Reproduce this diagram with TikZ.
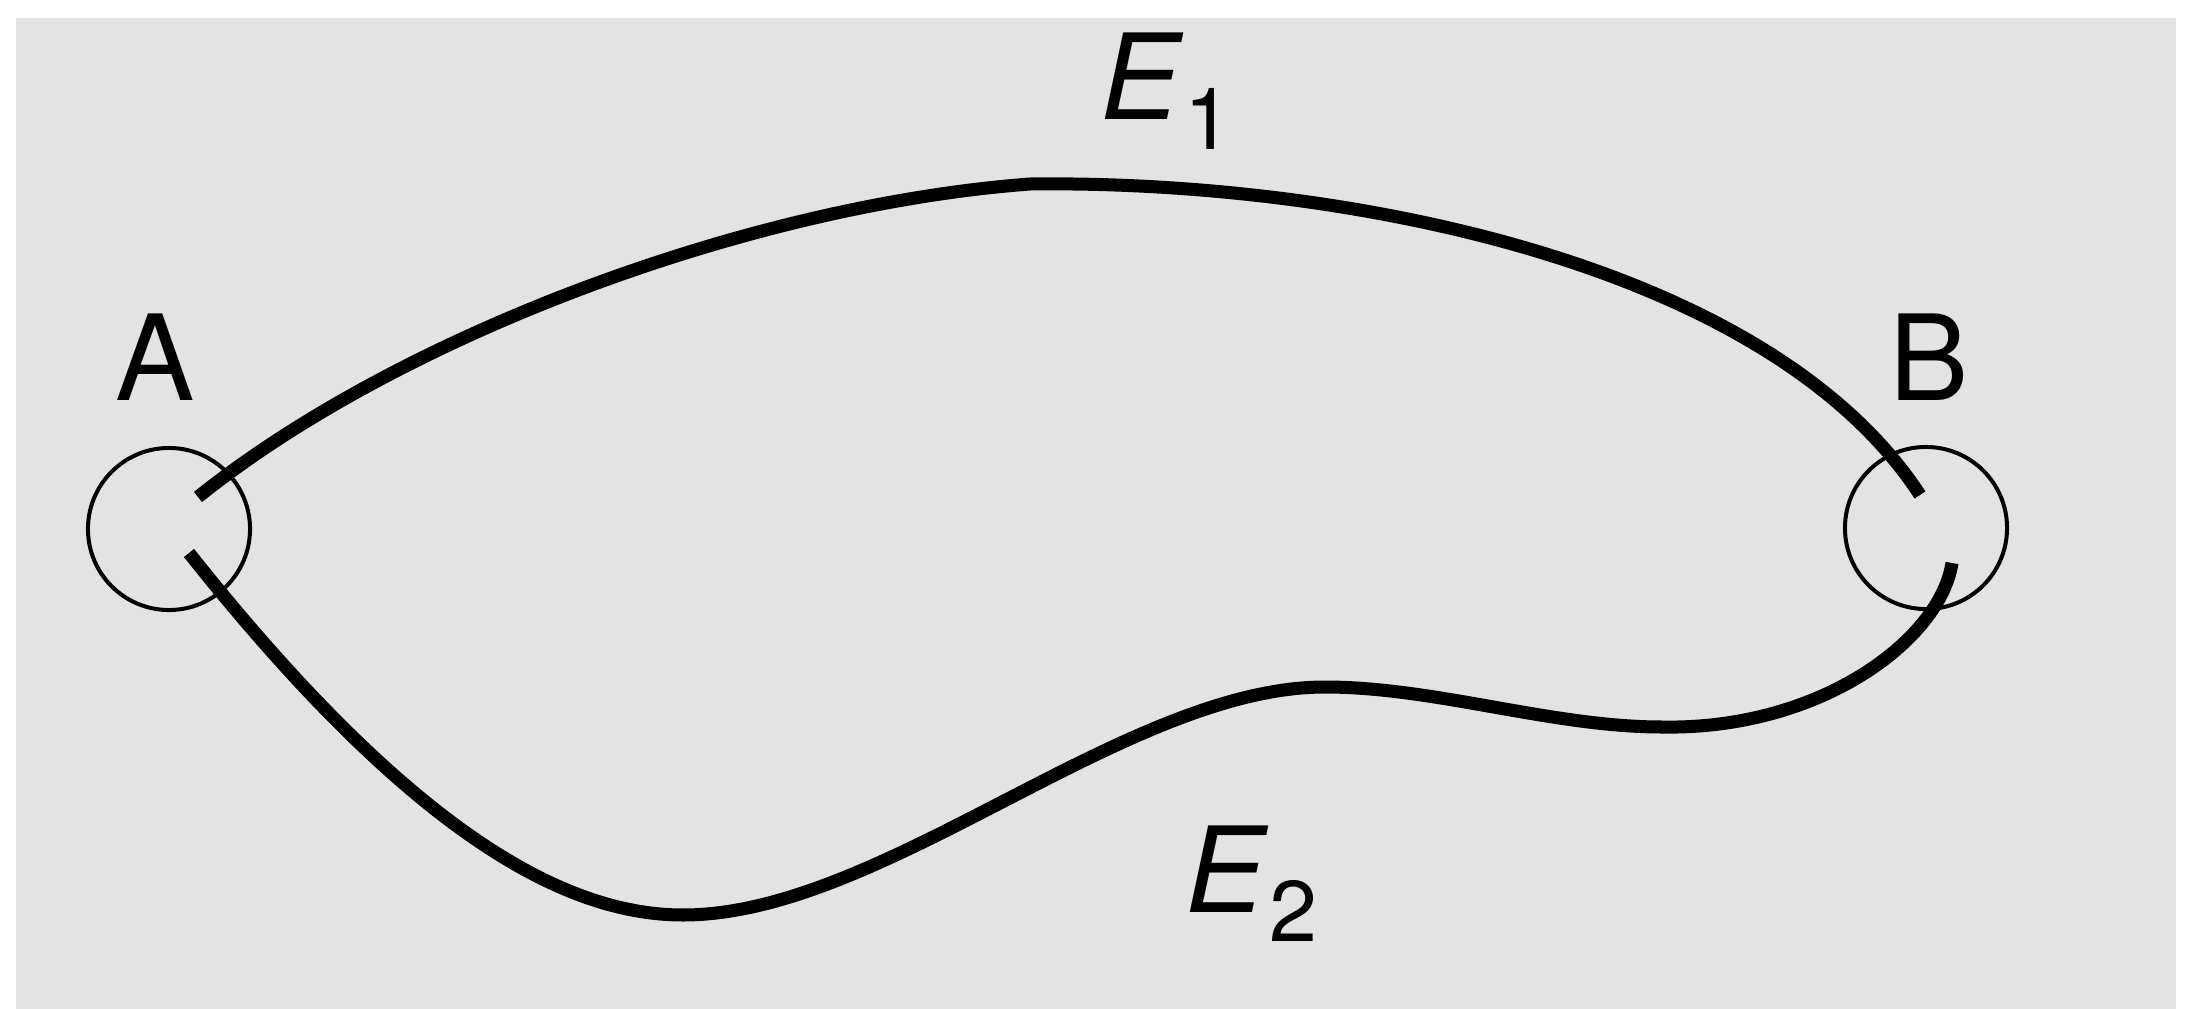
\documentclass[tikz,border=0pt]{standalone}
\usepackage{fontspec}
\setmainfont{TeX Gyre Heros}
\usetikzlibrary{positioning}
\definecolor{panelgray}{HTML}{E3E3E3}

\begin{document}
\begin{tikzpicture}[x=0.01cm, y=-0.01cm,
  site/.style={draw=black, line width=0.04cm, shape=circle, minimum size=1.62cm, inner sep=0pt},
  sitelabel/.style={inner sep=0pt, anchor=base, font=\fontsize{33.8}{40}\selectfont},
  edgelabel/.style={inner sep=0pt, anchor=base west, font=\fontsize{33.8}{40}\selectfont},
  pathline/.style={line width=0.13cm, draw=black}]

\useasboundingbox (0,0) rectangle (2202,1009);
\fill[white] (0,0) rectangle (2202,1009);
\fill[panelgray] (16,18) rectangle (2176,1009);

\node[site] (A) at (169, 529) {};
\node[site] (B) at (1926, 528) {};

\node[sitelabel] (labelA) at (155, 400) {A};
\node[sitelabel] (labelB) at (1929, 400) {B};

\node[edgelabel] (labelE1) at (1100, 120) {\textit{E}\raisebox{-8.5pt}{\fontsize{24.5}{28}\selectfont 1}};
\node[edgelabel] (labelE2) at (1185, 912) {\textit{E}\raisebox{-8.5pt}{\fontsize{24.5}{28}\selectfont 2}};

\coordinate (a1) at ([shift={(29,-32)}]A.center);
\coordinate (a2) at ([shift={(20,24)}]A.center);
\coordinate (b1) at ([shift={(-6,-33)}]B.center);
\coordinate (b2) at ([shift={(26,35)}]B.center);

\draw[pathline] (a1) .. controls (400,335) and (750,205) .. (1030,184)
  .. controls (1350,180) and (1770,265) .. (b1);

\draw[pathline] (a2) .. controls (406,826) and (560,915) .. (683,915)
  .. controls (883,915) and (1125,687) .. (1325,687)
  .. controls (1435,687) and (1552,727) .. (1662,727)
  .. controls (1820,730) and (1940,640) .. (b2);

\end{tikzpicture}
\end{document}
